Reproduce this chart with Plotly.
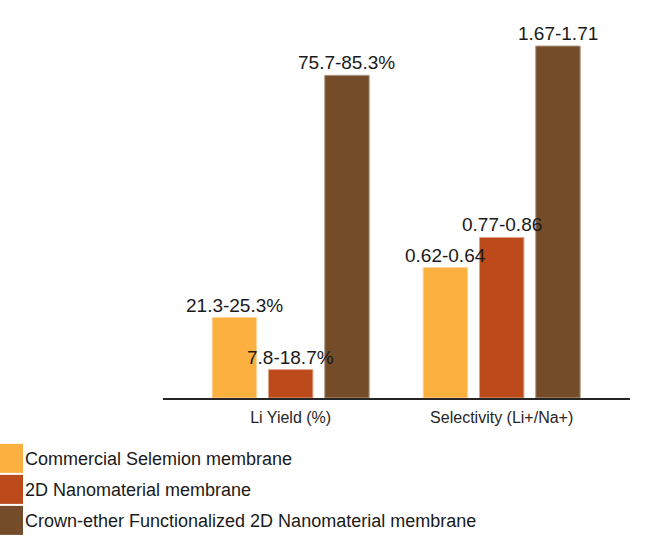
import plotly.graph_objects as go

categories = ["Li Yield (%)", "Selectivity (Li+/Na+)"]
series_names = [
    "Commercial Selemion membrane",
    "2D Nanomaterial membrane",
    "Crown-ether Functionalized 2D Nanomaterial membrane",
]
# relative bar heights as drawn (no visible y scale in the reference)
commercial_heights = [80.4, 130.4]
nano2d_heights = [28.4, 160.4]
crown_heights = [322.4, 351.7]
commercial_labels = ["21.3-25.3%", "0.62-0.64"]
nano2d_labels = ["7.8-18.7%", "0.77-0.86"]
crown_labels = ["75.7-85.3%", "1.67-1.71"]

colors = ["#FBB040", "#BD4A1B", "#754C29"]
outline = ["#FDD49A", "#E0A58C", "#B49A84"]

W, H = 650, 547
ML, MR, MT, MB = 163, 20, 20, 149.3
plot_w = W - ML - MR
plot_h = H - MT - MB
X_RANGE = [-0.605, 1.608]
BARGAP, BARGROUPGAP = 0.2, 0.21

heights = [commercial_heights, nano2d_heights, crown_heights]
labels = [commercial_labels, nano2d_labels, crown_labels]

fig = go.Figure()
for name, ys, c, oc in zip(series_names, heights, colors, outline):
    fig.add_trace(go.Bar(
        name=name, x=categories, y=ys,
        marker=dict(color=c, line=dict(color=oc, width=1)),
        hoverinfo="skip",
    ))

# value labels as annotations so they sit above every bar (as in the reference)
cat_px = plot_w / (X_RANGE[1] - X_RANGE[0])
slot_px = cat_px * (1 - BARGAP) / len(series_names)
annotations = []
for i, (ys, txt) in enumerate(zip(heights, labels)):
    shift = (i - (len(series_names) - 1) / 2) * slot_px
    for cat, yv, t in zip(categories, ys, txt):
        annotations.append(dict(
            x=cat, y=yv, xref="x", yref="y", text=t, showarrow=False,
            xanchor="center", yanchor="bottom", xshift=shift, yshift=0,
            font=dict(family="Liberation Sans, Arial, sans-serif", size=19, color="#1a1a1a"),
        ))

def px_to_paper_x(px):
    return (px - ML) / plot_w

def px_to_paper_y(py):
    return (H - MB - py) / plot_h

shapes = []
sw_top0, sw_h, step = 443.5, 29, 31
for i, (name, c) in enumerate(zip(series_names, colors)):
    top = sw_top0 + i * step
    shapes.append(dict(
        type="rect", xref="paper", yref="paper",
        x0=px_to_paper_x(0), x1=px_to_paper_x(23),
        y0=px_to_paper_y(top + sw_h), y1=px_to_paper_y(top),
        fillcolor=c, line=dict(width=0),
    ))
    annotations.append(dict(
        xref="paper", yref="paper",
        x=px_to_paper_x(23), y=px_to_paper_y(top + sw_h / 2 + 1),
        xanchor="left", yanchor="middle", showarrow=False,
        text=name,
        font=dict(family="Liberation Sans, Arial, sans-serif", size=18, color="#1a1a1a"),
    ))

fig.update_layout(
    width=W, height=H,
    margin=dict(l=ML, r=MR, t=MT, b=MB, pad=0),
    paper_bgcolor="white", plot_bgcolor="white",
    barmode="group", bargap=BARGAP, bargroupgap=BARGROUPGAP,
    showlegend=False,
    shapes=shapes, annotations=annotations,
    xaxis=dict(
        range=X_RANGE,
        showline=True, linecolor="#262626", linewidth=1.5,
        showgrid=False, ticks="", zeroline=False, ticklabelstandoff=4,
        tickfont=dict(family="Liberation Sans, Arial, sans-serif", size=16, color="#262626"),
    ),
    yaxis=dict(
        range=[0, plot_h], visible=False, showgrid=False, zeroline=False,
    ),
)

fig.write_html("out.html", config={"displayModeBar": False},
               post_script="document.body.style.margin='0px';")
